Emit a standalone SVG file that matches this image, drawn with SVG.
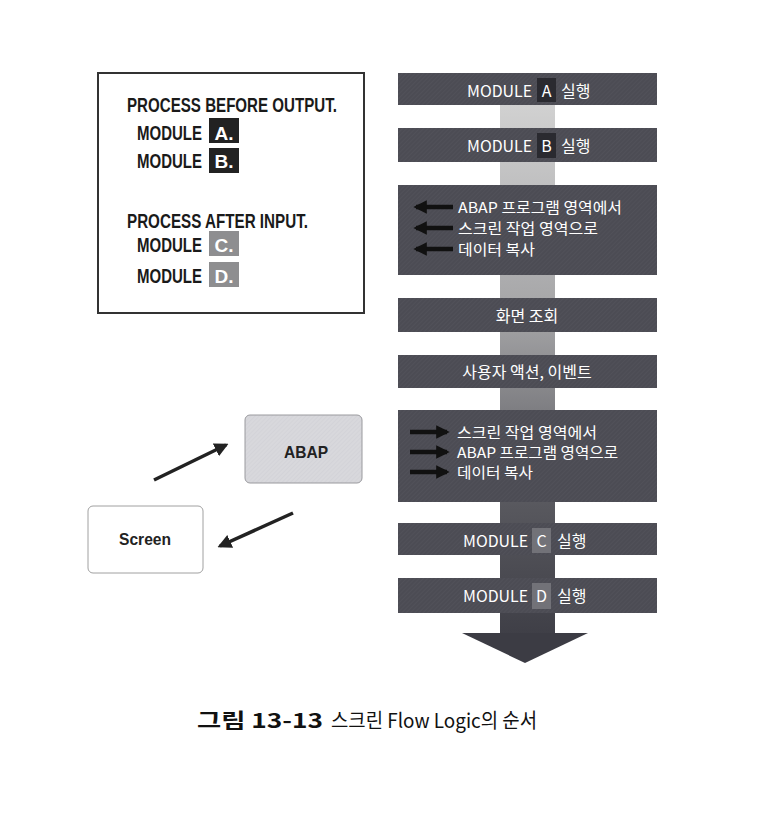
<svg xmlns="http://www.w3.org/2000/svg" width="757" height="837" viewBox="0 0 757 837">
<defs>
<linearGradient id="strip" x1="0" y1="100" x2="0" y2="640" gradientUnits="userSpaceOnUse">
<stop offset="0" stop-color="#d2d2d2"/>
<stop offset="0.4" stop-color="#a4a4a6"/>
<stop offset="0.75" stop-color="#58585e"/>
<stop offset="1" stop-color="#3e3e46"/>
</linearGradient>
<pattern id="hatch" width="3" height="3" patternUnits="userSpaceOnUse" patternTransform="rotate(45)">
<rect width="3" height="3" fill="#4c4c54"/>
<line x1="0" y1="0" x2="0" y2="3" stroke="#55555d" stroke-width="1"/>
</pattern>
<pattern id="lhatch" width="3" height="3" patternUnits="userSpaceOnUse" patternTransform="rotate(45)">
<rect width="3" height="3" fill="#d8d8dc"/>
<line x1="0" y1="0" x2="0" y2="3" stroke="#cfcfd4" stroke-width="1"/>
</pattern>
<marker id="ah" viewBox="0 0 10 10" refX="8" refY="5" markerWidth="4" markerHeight="4" orient="auto" markerUnits="strokeWidth">
<path d="M0,0 L10,5 L0,10 z" fill="#222"/>
</marker>
<marker id="sh" viewBox="0 0 10 10" refX="8" refY="5" markerWidth="3" markerHeight="3" orient="auto" markerUnits="strokeWidth">
<path d="M0,0 L10,5 L0,10 z" fill="#111"/>
</marker>
</defs>
<style>
.cond{font-family:"Liberation Sans",Arial,sans-serif;font-weight:bold;font-size:16.5px;fill:#1a1a1a}
.lbox{font-family:"Liberation Sans",Arial,sans-serif;font-weight:bold;font-size:15px;fill:#fff;text-anchor:middle}
.bar{fill:url(#hatch)}
.bt{font-family:"Noto Sans CJK KR","Liberation Sans",sans-serif;font-size:16px;fill:#fff}
.bm{font-family:"Noto Sans CJK KR","Liberation Sans",sans-serif;font-size:15px;fill:#fff}
.btc{font-family:"Noto Sans CJK KR","Liberation Sans",sans-serif;font-size:16px;fill:#fff;text-anchor:middle}
.sarr{stroke:#111;stroke-width:4.5;fill:none;marker-end:url(#sh)}
.conn{stroke:#222;stroke-width:3.5;fill:none;marker-end:url(#ah)}
.node{font-family:"Liberation Sans",Arial,sans-serif;font-weight:bold;font-size:17px;fill:#222;text-anchor:middle}
</style>
<rect width="757" height="837" fill="#fff"/>

<g id="code-box">
<rect x="98" y="73" width="266" height="240" fill="#fff" stroke="#333" stroke-width="2"/>
<text class="cond" transform="translate(127,112) scale(1,1.27)" textLength="210" lengthAdjust="spacingAndGlyphs">PROCESS BEFORE OUTPUT.</text>
<text class="cond" transform="translate(137,140) scale(1,1.27)" textLength="65" lengthAdjust="spacingAndGlyphs">MODULE</text>
<rect x="209" y="118" width="30" height="25" fill="#222"/>
<text class="lbox" transform="translate(224,140) scale(1,1.27)" textLength="19" lengthAdjust="spacingAndGlyphs">A.</text>
<text class="cond" transform="translate(137,168) scale(1,1.27)" textLength="65" lengthAdjust="spacingAndGlyphs">MODULE</text>
<rect x="209" y="148" width="30" height="25" fill="#222"/>
<text class="lbox" transform="translate(224,168) scale(1,1.27)" textLength="19" lengthAdjust="spacingAndGlyphs">B.</text>
<text class="cond" transform="translate(127,228) scale(1,1.27)" textLength="181" lengthAdjust="spacingAndGlyphs">PROCESS AFTER INPUT.</text>
<text class="cond" transform="translate(137,252) scale(1,1.27)" textLength="65" lengthAdjust="spacingAndGlyphs">MODULE</text>
<rect x="209" y="231" width="30" height="25" fill="#8e8e90"/>
<text class="lbox" transform="translate(224,252) scale(1,1.27)" textLength="19" lengthAdjust="spacingAndGlyphs">C.</text>
<text class="cond" transform="translate(137,283) scale(1,1.27)" textLength="65" lengthAdjust="spacingAndGlyphs">MODULE</text>
<rect x="209" y="262" width="30" height="25" fill="#8e8e90"/>
<text class="lbox" transform="translate(224,283) scale(1,1.27)" textLength="19" lengthAdjust="spacingAndGlyphs">D.</text>
</g>

<g id="flow-arrow">
<rect x="500" y="100" width="55" height="535" fill="url(#strip)"/>
<polygon points="462,633 588,633 525,663" fill="#3c3c44"/>
</g>

<g id="bar-a">
<rect class="bar" x="398" y="73" width="259" height="32"/>
<text class="bt" x="467" y="97" textLength="65" lengthAdjust="spacingAndGlyphs">MODULE</text>
<rect x="537" y="78" width="19" height="24" fill="#2a2a30"/>
<text class="btc" x="546.5" y="97">A</text>
<text class="bt" x="561" y="97">실행</text>
</g>

<g id="bar-b">
<rect class="bar" x="398" y="128" width="259" height="34"/>
<text class="bt" x="467" y="152" textLength="65" lengthAdjust="spacingAndGlyphs">MODULE</text>
<rect x="537" y="133" width="19" height="25" fill="#2a2a30"/>
<text class="btc" x="546.5" y="152">B</text>
<text class="bt" x="561" y="152">실행</text>
</g>

<g id="bar-copy1">
<rect class="bar" x="398" y="185" width="259" height="90"/>
<line class="sarr" x1="453" y1="207" x2="416" y2="207"/>
<line class="sarr" x1="453" y1="228" x2="416" y2="228"/>
<line class="sarr" x1="453" y1="249" x2="416" y2="249"/>
<text class="bm" x="458" y="213" textLength="164" lengthAdjust="spacingAndGlyphs">ABAP 프로그램 영역에서</text>
<text class="bm" x="458" y="234" textLength="140" lengthAdjust="spacingAndGlyphs">스크린 작업 영역으로</text>
<text class="bm" x="458" y="255" textLength="77" lengthAdjust="spacingAndGlyphs">데이터 복사</text>
</g>

<g id="bar-display">
<rect class="bar" x="398" y="298" width="259" height="34"/>
<text class="btc" x="527" y="322">화면 조회</text>
</g>

<g id="bar-event">
<rect class="bar" x="398" y="355" width="259" height="33"/>
<text class="btc" x="527" y="378">사용자 액션, 이벤트</text>
</g>

<g id="bar-copy2">
<rect class="bar" x="398" y="410" width="259" height="92"/>
<line class="sarr" x1="410" y1="432" x2="447" y2="432"/>
<line class="sarr" x1="410" y1="452" x2="447" y2="452"/>
<line class="sarr" x1="410" y1="472" x2="447" y2="472"/>
<text class="bm" x="457" y="438" textLength="140" lengthAdjust="spacingAndGlyphs">스크린 작업 영역에서</text>
<text class="bm" x="457" y="458" textLength="161" lengthAdjust="spacingAndGlyphs">ABAP 프로그램 영역으로</text>
<text class="bm" x="457" y="478" textLength="76" lengthAdjust="spacingAndGlyphs">데이터 복사</text>
</g>

<g id="bar-c">
<rect class="bar" x="398" y="523" width="259" height="32"/>
<text class="bt" x="463" y="547" textLength="65" lengthAdjust="spacingAndGlyphs">MODULE</text>
<rect x="532" y="528" width="19" height="25" fill="#727278"/>
<text class="btc" x="541.5" y="547">C</text>
<text class="bt" x="557" y="547">실행</text>
</g>

<g id="bar-d">
<rect class="bar" x="398" y="578" width="259" height="35"/>
<text class="bt" x="463" y="602" textLength="65" lengthAdjust="spacingAndGlyphs">MODULE</text>
<rect x="532" y="583" width="19" height="26" fill="#727278"/>
<text class="btc" x="541.5" y="602">D</text>
<text class="bt" x="557" y="602">실행</text>
</g>

<g id="abap">
<rect x="245" y="415" width="117" height="68" rx="5" fill="url(#lhatch)" stroke="#9a9a9e" stroke-width="1"/>
<text class="node" x="306" y="458" textLength="44" lengthAdjust="spacingAndGlyphs">ABAP</text>
</g>

<g id="screen">
<rect x="88" y="506" width="115" height="67" rx="5" fill="#fff" stroke="#a0a0a0" stroke-width="1"/>
<text class="node" x="145" y="545" textLength="52" lengthAdjust="spacingAndGlyphs">Screen</text>
</g>

<g id="connectors">
<line class="conn" x1="154" y1="480" x2="226" y2="445"/>
<line class="conn" x1="293" y1="513" x2="220" y2="546"/>
</g>

<g id="caption">
<text x="197" y="728" font-family="Noto Sans CJK KR,Liberation Sans,sans-serif" font-size="20" font-weight="bold" fill="#111" textLength="126" lengthAdjust="spacingAndGlyphs">그림 13-13</text>
<text x="331" y="728" font-family="Noto Sans CJK KR,Liberation Sans,sans-serif" font-size="20" fill="#111" textLength="206" lengthAdjust="spacingAndGlyphs">스크린 Flow Logic의 순서</text>
</g>
</svg>
